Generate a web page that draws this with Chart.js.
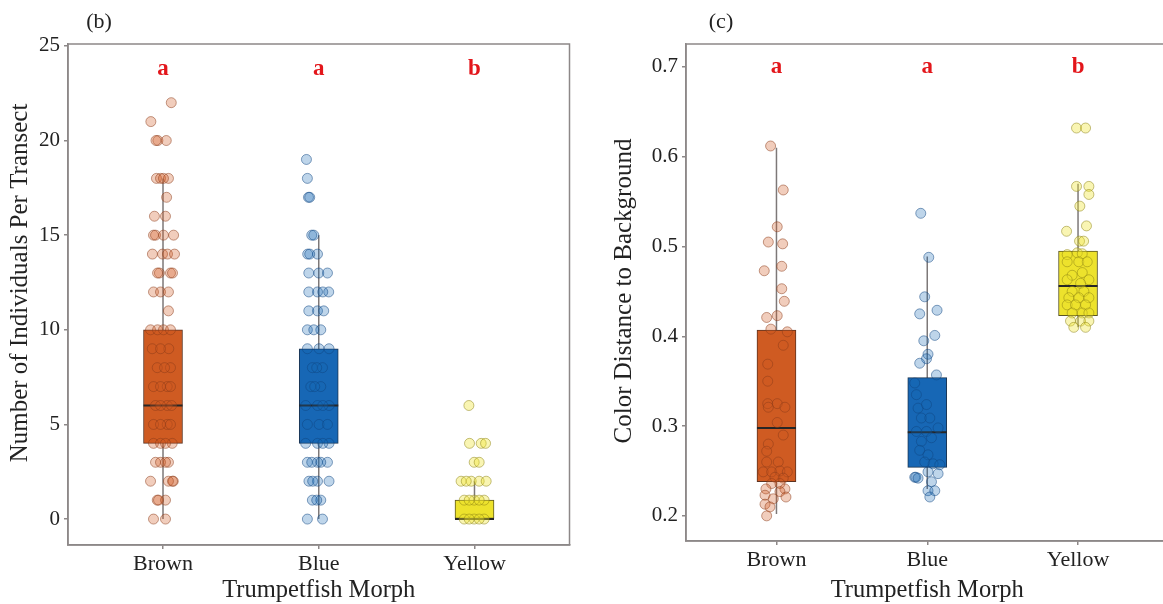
<!DOCTYPE html>
<html><head><meta charset="utf-8">
<script src="https://cdn.jsdelivr.net/npm/chart.js@4.4.1/dist/chart.umd.min.js"></script>
<style>
html,body{margin:0;padding:0;background:#fff;overflow:hidden;width:1163px;height:604px;position:relative;}
#cb{position:absolute;left:0;top:0;}
#cc{position:absolute;left:580px;top:0;}
</style></head><body>
<canvas id="cb" width="591" height="604"></canvas>
<canvas id="cc" width="610" height="604"></canvas>
<script>
const categories = ['Brown', 'Blue', 'Yellow'];
const sigLetters = ['a', 'a', 'b'];

// ---- Panel (b): Number of individuals per transect ----
const countTicks = [0, 5, 10, 15, 20, 25];
const countQ1 = [4, 4, 0];
const countMedian = [6, 6, 0];
const countQ3 = [10, 9, 1];
const countWhiskerLow = [0, 0, 0];
const countWhiskerHigh = [18, 15, 2];
const countBrownY = [22,21,20,20,20,18,18,18,18,17,16,16,15,15,15,15,14,14,14,14,13,13,13,13,12,12,12,11,10,10,10,10,9,9,9,8,8,8,7,7,7,7,6,6,6,6,5,5,5,5,4,4,4,4,3,3,3,3,2,2,2,2,1,1,1,0,0];
const countBrownJit = [0.053,-0.078,-0.033,-0.045,0.021,-0.042,-0.016,0.035,0.003,0.023,-0.055,0.016,-0.061,-0.048,0.003,0.068,-0.068,-0.003,0.029,0.074,-0.023,-0.035,0.048,0.061,-0.061,-0.016,0.035,0.035,-0.08,-0.035,0.003,0.048,-0.069,0.037,-0.016,-0.037,0.048,0.01,-0.061,0.027,-0.016,0.048,-0.048,0.027,-0.016,0.055,-0.061,0.027,-0.016,0.048,-0.061,0.059,-0.016,0.016,-0.048,0.035,-0.016,0.016,-0.08,0.066,0.035,0.061,-0.037,0.016,-0.029,-0.061,0.016];
const countBlueY = [19,18,17,17,15,15,14,14,14,13,13,13,12,12,12,12,11,11,11,10,10,10,9,9,9,8,8,8,7,7,7,6,6,6,6,5,5,5,4,4,4,4,3,3,3,3,3,2,2,2,2,1,1,1,0,0];
const countBlueJit = [-0.079,-0.073,-0.066,-0.058,-0.045,-0.032,-0.071,-0.008,-0.058,-0.064,0,0.056,-0.064,-0.008,0.064,0.026,-0.064,-0.008,0.032,-0.073,0.013,-0.032,-0.073,0.002,0.066,-0.041,0.024,-0.013,-0.051,0.013,-0.026,-0.084,-0.008,0.066,0.026,-0.073,0.002,0.056,-0.084,-0.008,0.066,0.026,-0.073,-0.008,0.056,-0.045,0.013,-0.063,-0.008,0.066,-0.039,-0.041,0.013,-0.013,-0.073,0.024];
const countYellowY = [6,4,4,4,3,3,2,2,2,2,2,1,1,1,1,1,0,0,0,0,0];
const countYellowJit = [-0.036,-0.032,0.043,0.071,-0.002,0.030,-0.086,-0.021,0.030,0.075,-0.053,-0.066,-0.002,0.062,-0.034,0.03,-0.066,-0.002,0.062,-0.034,0.03];

// ---- Panel (c): Color distance to background ----
const colorTicks = [0.2, 0.3, 0.4, 0.5, 0.6, 0.7];
const colorQ1 = [0.238, 0.254, 0.423];
const colorMedian = [0.298, 0.293, 0.456];
const colorQ3 = [0.407, 0.354, 0.495];
const colorWhiskerLow = [0.202, 0.23, 0.41];
const colorWhiskerHigh = [0.61, 0.489, 0.57];
const colorBrownY = [0.612,0.563,0.522,0.505,0.503,0.473,0.478,0.453,0.439,0.421,0.423,0.408,0.405,0.39,0.369,0.35,0.325,0.325,0.321,0.321,0.304,0.29,0.28,0.272,0.26,0.26,0.249,0.249,0.25,0.249,0.243,0.242,0.236,0.236,0.23,0.23,0.227,0.223,0.219,0.221,0.213,0.21,0.2];
const colorBrownJit = [-0.039,0.045,0.005,-0.054,0.041,-0.081,0.035,0.035,0.052,-0.065,0.005,-0.037,0.072,0.045,-0.058,-0.058,-0.058,0.005,0.056,-0.054,0.005,0.045,-0.054,-0.065,-0.065,0.012,-0.088,-0.032,0.023,0.072,-0.01,0.045,-0.032,0.023,-0.07,0.056,0.023,-0.076,-0.021,0.063,-0.076,-0.043,-0.065];
const colorBlueY = [0.537,0.488,0.444,0.425,0.429,0.401,0.395,0.38,0.375,0.37,0.357,0.348,0.335,0.32,0.324,0.309,0.309,0.294,0.294,0.298,0.283,0.287,0.273,0.268,0.26,0.258,0.257,0.243,0.243,0.242,0.249,0.247,0.238,0.228,0.228,0.221];
const colorBlueJit = [-0.043,0.01,-0.017,-0.05,0.065,0.05,-0.023,0.005,-0.005,-0.05,0.061,-0.083,-0.072,-0.061,-0.005,-0.039,0.017,-0.072,-0.005,0.072,-0.039,0.028,-0.05,0.005,-0.017,0.039,0.083,-0.083,-0.076,-0.061,0.005,0.072,0.028,0.005,0.05,0.017];
const colorYellowY = [0.632,0.632,0.567,0.567,0.558,0.545,0.517,0.523,0.506,0.506,0.491,0.493,0.492,0.483,0.483,0.483,0.471,0.468,0.463,0.463,0.459,0.45,0.45,0.443,0.443,0.443,0.435,0.435,0.435,0.426,0.426,0.426,0.417,0.417,0.417,0.41,0.41];
const colorYellowJit = [-0.01,0.05,-0.01,0.072,0.072,0.012,-0.076,0.056,0.01,0.037,-0.072,-0.005,0.028,-0.072,0.005,0.061,0.028,-0.039,-0.072,0.072,0.017,-0.039,0.039,-0.061,0.005,0.072,-0.072,-0.017,0.05,-0.039,0.028,0.072,-0.05,0.017,0.072,-0.028,0.05];

// ---- styles ----
const FONT = '"Liberation Serif", "Times New Roman", serif';
const boxFill = ['#cf5b22', '#1767b5', '#ede22c'];
const boxEdge = ['#5b3322', '#1c3552', '#5a5522'];
const ptFill = ['rgba(207,91,34,0.30)', 'rgba(23,103,181,0.28)', 'rgba(237,226,44,0.36)'];
const ptEdge = ['rgba(140,60,25,0.5)', 'rgba(15,70,130,0.5)', 'rgba(140,130,20,0.5)'];
const axisGrey = '#8d8888';

const deco = {
  id: 'deco',
  afterDraw(chart, args, o) {
    const {ctx, chartArea: a, scales: {x, y}} = chart;
    ctx.save();
    ctx.strokeStyle = axisGrey; ctx.lineWidth = 1.5;
    ctx.strokeRect(a.left, a.top, a.right - a.left, a.bottom - a.top);
    ctx.textAlign = 'center'; ctx.textBaseline = 'middle';
    ctx.fillStyle = '#e3161b';
    ctx.font = 'bold 23px ' + FONT;
    sigLetters.forEach((L, i) => ctx.fillText(L, x.getPixelForValue(i + 1), y.getPixelForValue(o.letterY)));
    ctx.fillStyle = '#222';
    ctx.font = '22px ' + FONT;
    ctx.fillText(o.panel, o.panelX, 22);
    ctx.font = '24.5px ' + FONT;
    ctx.fillText('Trumpetfish Morph', x.getPixelForValue(2), 591);
    ctx.font = '25px ' + FONT;
    ctx.translate(o.yTitleX, o.yTitleY);
    ctx.rotate(-Math.PI / 2);
    ctx.fillText(o.yTitle, 0, 0);
    ctx.restore();
  }
};

function makePanel(id, p) {
  const datasets = [];
  const whisk = [];
  categories.forEach((c, i) => {
    whisk.push({x: i + 1, y: p.lo[i]}, {x: i + 1, y: p.hi[i]}, {x: i + 1, y: null});
  });
  datasets.push({type: 'line', data: whisk, borderColor: '#7d7878', borderWidth: 1.5,
    pointRadius: 0, spanGaps: false, order: 5});
  datasets.push({type: 'bar', data: categories.map((c, i) => ({x: i + 1, y: [p.q1[i], p.q3[i]]})),
    backgroundColor: boxFill, borderColor: boxEdge, borderWidth: 1, borderSkipped: false,
    barThickness: 39, order: 4});
  datasets.push({type: 'scatter', data: categories.map((c, i) => ({x: i + 1, y: p.med[i]})),
    pointStyle: 'line', pointRadius: 19.5, borderColor: '#262626', pointBorderColor: '#262626',
    borderWidth: 2, pointBorderWidth: 2, order: 3});
  p.pts.forEach((s, i) => {
    datasets.push({type: 'scatter', data: s.y.map((v, k) => ({x: i + 1 + s.j[k], y: v})),
      pointRadius: 5, backgroundColor: ptFill[i], borderColor: ptEdge[i], borderWidth: 1, order: 1});
  });
  new Chart(document.getElementById(id), {
    type: 'scatter',
    data: {datasets},
    options: {
      responsive: false, animation: false, devicePixelRatio: 1,
      layout: {padding: {top: 44, right: 0, left: 0, bottom: 0}},
      plugins: {legend: {display: false}, tooltip: {enabled: false}, deco: p.deco},
      scales: {
        x: {type: 'linear', min: p.xMin, max: p.xMax, offset: false,
          afterBuildTicks: s => { s.ticks = categories.map((c, i) => ({value: i + 1})); },
          afterFit: s => { s.height = p.xAxisH; },
          ticks: {callback: v => categories[v - 1] || '', font: {family: FONT, size: 22}, color: '#222',
            padding: 2, maxRotation: 0, autoSkip: false},
          grid: {display: true, drawOnChartArea: false, drawTicks: true, tickLength: 4, color: axisGrey, lineWidth: 1.5, offset: false},
          border: {display: true, color: axisGrey, width: 1.5}},
        y: {type: 'linear', min: p.yMin, max: p.yMax,
          afterBuildTicks: s => { s.ticks = p.ticks.map(v => ({value: v})); },
          afterFit: s => { s.width = p.yAxisW; },
          ticks: {callback: p.fmt, font: {family: FONT, size: 21}, color: '#222', padding: 4},
          grid: {display: true, drawOnChartArea: false, drawTicks: true, tickLength: 4, color: axisGrey, lineWidth: 1.5},
          border: {display: true, color: axisGrey, width: 1.5}}
      }
    },
    plugins: [deco]
  });
}

makePanel('cb', {
  lo: countWhiskerLow, hi: countWhiskerHigh, q1: countQ1, q3: countQ3, med: countMedian,
  pts: [{y: countBrownY, j: countBrownJit}, {y: countBlueY, j: countBlueJit}, {y: countYellowY, j: countYellowJit}],
  xMin: 0.39, xMax: 3.61, yMin: -1.37, yMax: 25.1, ticks: countTicks, fmt: v => String(v),
  xAxisH: 59, yAxisW: 68,
  deco: {letterY: 23.8, panel: '(b)', panelX: 99, yTitle: 'Number of Individuals Per Transect', yTitleX: 20, yTitleY: 283}
});
makePanel('cc', {
  lo: colorWhiskerLow, hi: colorWhiskerHigh, q1: colorQ1, q3: colorQ3, med: colorMedian,
  pts: [{y: colorBrownY, j: colorBrownJit}, {y: colorBlueY, j: colorBlueJit}, {y: colorYellowY, j: colorYellowJit}],
  xMin: 0.4, xMax: 3.6, yMin: 0.172, yMax: 0.7256, ticks: colorTicks, fmt: v => v.toFixed(1),
  xAxisH: 63, yAxisW: 106,
  deco: {letterY: 0.7, panel: '(c)', panelX: 141, yTitle: 'Color Distance to Background', yTitleX: 44, yTitleY: 291}
});
</script>
</body></html>
